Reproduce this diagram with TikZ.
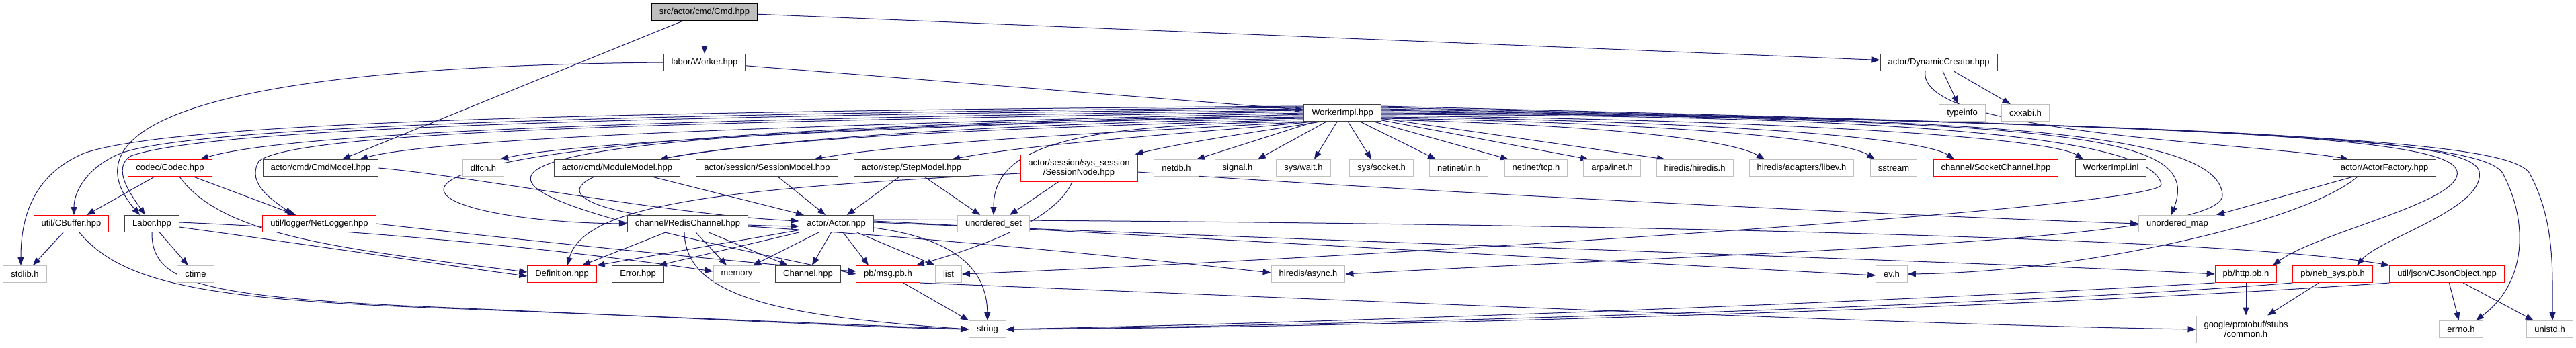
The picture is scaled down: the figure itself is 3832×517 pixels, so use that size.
\documentclass[tikz,border=0pt]{standalone}
\usepackage{fontspec}
\setmainfont{Liberation Sans}
\usetikzlibrary{arrows.meta,backgrounds}
\definecolor{edgeblue}{HTML}{191970}
\definecolor{darkframe}{HTML}{404040}
\definecolor{lightframe}{HTML}{BFBFBF}
\tikzset{
  hdr/.style={draw=darkframe, fill=white, line width=1pt, inner xsep=11.5pt, inner ysep=0pt,
    minimum height=25pt, align=center, font=\fontsize{13}{14}\selectfont},
  syshdr/.style={hdr, draw=lightframe},
  redhdr/.style={hdr, draw=red},
  incl/.style={draw=edgeblue, line width=1pt, -{Triangle[length=12pt,width=9pt]}},
}
\begin{document}
\begin{tikzpicture}[x=1pt,y=-1pt]
  \useasboundingbox (0,0) rectangle (3832,517);

  \node[hdr, fill=lightframe, draw=black] (cmd) at (1048,18) {src/actor/cmd/Cmd.hpp};
  \node[hdr] (worker) at (1048,93) {labor/Worker.hpp};
  \node[hdr] (dyncreator) at (2884,93) {actor/DynamicCreator.hpp};
  \node[hdr] (workerimpl) at (1997,168) {WorkerImpl.hpp};
  \node[syshdr] (typeinfo) at (2919,168) {typeinfo};
  \node[syshdr] (cxxabi) at (3013,168) {cxxabi.h};

  \node[redhdr] (codec) at (253,250) {codec/Codec.hpp};
  \node[hdr] (cmdmodel) at (477,250) {actor/cmd/CmdModel.hpp};
  \node[syshdr] (dlfcn) at (719,250) {dlfcn.h};
  \node[hdr] (modulemodel) at (918,250) {actor/cmd/ModuleModel.hpp};
  \node[hdr] (sessionmodel) at (1141,250) {actor/session/SessionModel.hpp};
  \node[hdr] (stepmodel) at (1356,250) {actor/step/StepModel.hpp};
  \node[redhdr, minimum height=40pt] (sessionnode) at (1605,250) {actor/session/sys\_session\\/SessionNode.hpp};
  \node[syshdr] (netdb) at (1750,250) {netdb.h};
  \node[syshdr] (signal) at (1841,250) {signal.h};
  \node[syshdr] (syswait) at (1939,250) {sys/wait.h};
  \node[syshdr] (syssocket) at (2055,250) {sys/socket.h};
  \node[syshdr] (netinetin) at (2170,250) {netinet/in.h};
  \node[syshdr] (netinettcp) at (2285,250) {netinet/tcp.h};
  \node[syshdr] (arpainet) at (2398,250) {arpa/inet.h};
  \node[syshdr] (hiredis) at (2521,250) {hiredis/hiredis.h};
  \node[syshdr] (libev) at (2680,250) {hiredis/adapters/libev.h};
  \node[syshdr] (sstream) at (2817,250) {sstream};
  \node[redhdr] (socketchannel) at (2969,250) {channel/SocketChannel.hpp};
  \node[hdr] (workerimplinl) at (3140,250) {WorkerImpl.inl};
  \node[hdr] (actorfactory) at (3547,250) {actor/ActorFactory.hpp};

  \node[redhdr] (cbuffer) at (106,333) {util/CBuffer.hpp};
  \node[hdr] (labor) at (226,333) {Labor.hpp};
  \node[redhdr] (netlogger) at (475,333) {util/logger/NetLogger.hpp};
  \node[hdr] (redischannel) at (1023,333) {channel/RedisChannel.hpp};
  \node[hdr] (actor) at (1244,333) {actor/Actor.hpp};
  \node[syshdr] (unorderedset) at (1478,333) {unordered\_set};
  \node[syshdr] (unorderedmap) at (3239,333) {unordered\_map};

  \node[syshdr] (stdlib) at (37,408) {stdlib.h};
  \node[syshdr] (ctime) at (291,408) {ctime};
  \node[redhdr] (definition) at (836,408) {Definition.hpp};
  \node[hdr] (error) at (949,408) {Error.hpp};
  \node[syshdr] (memory) at (1096,408) {memory};
  \node[hdr] (channel) at (1202,408) {Channel.hpp};
  \node[redhdr] (msgpb) at (1321,408) {pb/msg.pb.h};
  \node[syshdr] (list) at (1411,408) {list};
  \node[syshdr] (async) at (1946,408) {hiredis/async.h};
  \node[syshdr] (evh) at (2814,408) {ev.h};
  \node[redhdr] (httppb) at (3341,408) {pb/http.pb.h};
  \node[redhdr] (nebsys) at (3470,408) {pb/neb\_sys.pb.h};
  \node[redhdr] (cjson) at (3640,408) {util/json/CJsonObject.hpp};

  \node[syshdr] (string) at (1469,490) {string};
  \node[syshdr, minimum height=40pt] (google) at (3341,490) {google/protobuf/stubs\\/common.h};
  \node[syshdr] (errno) at (3661,490) {errno.h};
  \node[syshdr] (unistd) at (3793,490) {unistd.h};

  \begin{scope}[on background layer]
    \draw[incl] (cmd) -- (worker);
    \draw[incl] (cmd) -- (cmdmodel);
    \draw[incl] (cmd) -- (dyncreator);
    \draw[incl] (worker) -- (workerimpl);
    \draw[incl] (worker.west) .. controls (150,100) and (130,230) .. ([xshift=-18pt]labor.north);
    \draw[incl] (dyncreator) -- (typeinfo);
    \draw[incl] (dyncreator) -- (cxxabi);
    \draw[incl] ([xshift=-20pt]dyncreator.south) .. controls (2850,200) and (3350,212) .. ([xshift=-53pt]actorfactory.north);
    % WorkerImpl.hpp to the left
    \draw[incl] ([yshift=10pt]workerimpl.west) .. controls (800,166) and (250,185) .. (125,228) .. controls (45,262) and (31,330) .. ([xshift=-6pt]stdlib.north);
    \draw[incl] ([yshift=8pt]workerimpl.west) .. controls (800,170) and (280,192) .. (180,228) .. controls (130,248) and (110,285) .. ([xshift=4pt]cbuffer.north);
    \draw[incl] ([yshift=6pt]workerimpl.west) .. controls (800,174) and (300,195) .. (195,232) .. controls (165,250) and (195,290) .. ([xshift=-10pt]labor.north);
    \draw[incl] ([yshift=4pt]workerimpl.west) .. controls (900,178) and (420,200) .. ([xshift=45pt]codec.north);
    \draw[incl] ([yshift=2pt]workerimpl.west) .. controls (1000,182) and (440,195) .. (385,240) .. controls (365,275) and (410,300) .. ([xshift=-40pt]netlogger.north);
    \draw[incl] (workerimpl.west) .. controls (1200,186) and (650,205) .. ([xshift=58pt]cmdmodel.north);
    \draw[incl] ([yshift=-2pt]workerimpl.west) .. controls (1300,190) and (850,212) .. ([xshift=-6pt]dlfcn.north east);
    \draw[incl] ([yshift=-4pt]workerimpl.west) .. controls (300,195) and (580,330) .. (redischannel.west);
    \draw[incl] ([yshift=-6pt]workerimpl.west) .. controls (350,200) and (700,290) .. (msgpb.west);
    \draw[incl] ([yshift=-8pt]workerimpl.west) .. controls (600,200) and (720,330) .. ([yshift=-4pt]actor.west);
    \draw[incl] ([yshift=-10pt]workerimpl.west) .. controls (1500,190) and (1150,205) .. ([xshift=63pt]modulemodel.north);
    \draw[incl] ([xshift=2pt]workerimpl.south west) .. controls (1600,185) and (1478,215) .. (unorderedset.north);
    \draw[incl] ([xshift=8pt]workerimpl.south west) .. controls (1700,195) and (1360,210) .. ([xshift=70pt]sessionmodel.north);
    \draw[incl] ([xshift=16pt]workerimpl.south west) .. controls (1780,198) and (1550,212) .. ([xshift=60pt]stepmodel.north);
    \draw[incl] ([xshift=26pt]workerimpl.south west) .. controls (1880,195) and (1770,210) .. ([xshift=-4pt]sessionnode.north east);
    % WorkerImpl.hpp downwards and to the right
    \draw[incl] (workerimpl) -- ([xshift=30pt]netdb.north);
    \draw[incl] (workerimpl) -- ([xshift=30pt]signal.north);
    \draw[incl] (workerimpl) -- ([xshift=16pt]syswait.north);
    \draw[incl] (workerimpl) -- ([xshift=-15pt]syssocket.north);
    \draw[incl] (workerimpl) -- ([xshift=-34pt]netinetin.north);
    \draw[incl] (workerimpl) -- ([xshift=-41pt]netinettcp.north);
    \draw[incl] (workerimpl) -- ([xshift=-35pt]arpainet.north);
    \draw[incl] (workerimpl) -- ([xshift=-44pt]hiredis.north);
    \draw[incl] ([yshift=-10pt]workerimpl.east) .. controls (2350,185) and (2570,205) .. ([xshift=-55pt]libev.north);
    \draw[incl] ([yshift=-8pt]workerimpl.east) .. controls (2450,182) and (2740,205) .. ([xshift=-28pt]sstream.north);
    \draw[incl] ([yshift=-6pt]workerimpl.east) .. controls (2550,180) and (2860,205) .. ([xshift=-62pt]socketchannel.north);
    \draw[incl] ([yshift=-4pt]workerimpl.east) .. controls (2650,178) and (3050,205) .. ([xshift=-41pt]workerimplinl.north);
    \draw[incl] ([yshift=-2pt]workerimpl.east) .. controls (2800,172) and (3205,200) .. (3215,275) .. controls (3210,310) and (2000,385) .. (list.east);
    \draw[incl] (workerimpl.east) .. controls (2900,174) and (3300,190) .. (3306,290) .. controls (3310,360) and (2600,375) .. (async.east);
    \draw[incl] ([yshift=2pt]workerimpl.east) .. controls (3100,180) and (3275,200) .. ([xshift=-9pt]unorderedmap.north);
    \draw[incl] ([yshift=4pt]workerimpl.east) .. controls (3300,185) and (3645,205) .. (3655,255) .. controls (3665,300) and (3450,345) .. ([xshift=40pt]httppb.north);
    \draw[incl] ([yshift=6pt]workerimpl.east) .. controls (3350,188) and (3675,205) .. (3688,255) .. controls (3698,310) and (3540,355) .. ([xshift=36pt]nebsys.north);
    \draw[incl] ([yshift=8pt]workerimpl.east) .. controls (3400,190) and (3710,210) .. (3725,262) .. controls (3760,330) and (3760,420) .. ([xshift=22pt]errno.north);
    \draw[incl] ([yshift=10pt]workerimpl.east) .. controls (3450,192) and (3750,212) .. (3765,262) .. controls (3800,330) and (3797,400) .. ([xshift=4pt]unistd.north);
    % the other headers
    \draw[incl] (codec) -- (cbuffer);
    \draw[incl] (codec) -- (netlogger);
    \draw[incl] ([xshift=14pt]codec.south) .. controls (330,350) and (500,370) .. ([yshift=3pt]definition.west);
    \draw[incl] (cmdmodel.east) .. controls (700,262) and (1000,320) .. ([yshift=4pt]actor.west);
    \draw[incl] (modulemodel) -- ([xshift=-48pt]actor.north);
    \draw[incl] (sessionmodel) -- ([xshift=-16pt]actor.north);
    \draw[incl] (stepmodel) -- ([xshift=16pt]actor.north);
    \draw[incl] (stepmodel) -- ([xshift=-20pt]unorderedset.north);
    \draw[incl] (sessionnode) -- ([xshift=24pt]unorderedset.north);
    \draw[incl] ([yshift=-8pt]sessionnode.west) .. controls (1100,280) and (870,300) .. ([xshift=8pt]definition.north);
    \draw[incl] ([xshift=-10pt]sessionnode.south) .. controls (1570,330) and (1450,370) .. ([xshift=-6pt]msgpb.north east);
    \draw[incl] ([yshift=-6pt]sessionnode.east) .. controls (2100,285) and (2800,320) .. (unorderedmap.west);
    \draw[incl] (cbuffer) -- (stdlib);
    \draw[incl] ([xshift=12pt]cbuffer.south) .. controls (180,420) and (300,445) .. (640,458) .. controls (1000,472) and (1300,485) .. (string.west);
    \draw[incl] (labor) -- (ctime);
    \draw[incl] (labor.south) .. controls (225,420) and (300,440) .. (600,455) .. controls (1000,472) and (1300,488) .. (string.west);
    \draw[incl] ([yshift=-5pt]labor.east) .. controls (500,370) and (700,400) .. ([yshift=-3pt]definition.west);
    \draw[incl] ([yshift=2pt]labor.east) .. controls (600,345) and (900,380) .. ([yshift=4pt]memory.west);
    \draw[incl] (netlogger.east) .. controls (800,360) and (1150,395) .. ([yshift=4pt]msgpb.west);
    \draw[incl] (redischannel) -- ([xshift=30pt]definition.north);
    \draw[incl] (redischannel) -- ([xshift=-15pt]memory.north);
    \draw[incl] (redischannel) -- ([xshift=-30pt]channel.north);
    \draw[incl] ([xshift=-5pt]redischannel.south) .. controls (1020,440) and (1150,470) .. (string.west);
    \draw[incl] ([yshift=-4pt]redischannel.east) .. controls (1400,355) and (1700,385) .. ([yshift=2pt]async.west);
    \draw[incl] (actor) -- (definition.north east);
    \draw[incl] (actor) -- ([xshift=-8pt]error.north east);
    \draw[incl] (actor) -- ([xshift=24pt]memory.north);
    \draw[incl] (actor) -- ([xshift=6pt]channel.north);
    \draw[incl] (actor) -- ([xshift=-29pt]msgpb.north);
    \draw[incl] (actor) -- (list.north west);
    \draw[incl] ([yshift=-6pt]actor.east) .. controls (1420,355) and (1468,400) .. (string.north);
    \draw[incl] ([yshift=4pt]actor.east) .. controls (1800,355) and (2500,395) .. ([yshift=-2pt]evh.west);
    \draw[incl] ([yshift=2pt]actor.east) .. controls (2000,360) and (3000,392) .. (httppb.west);
    \draw[incl] ([yshift=6pt]actor.east) .. controls (2200,330) and (3300,350) .. (cjson.north west);
    \draw[incl] (msgpb) -- (string.north west);
    \draw[incl] (msgpb.south east) .. controls (2200,455) and (2900,485) .. (google.west);
    \draw[incl] ([xshift=-40pt]actorfactory.south) .. controls (3430,330) and (3100,405) .. (evh.east);
    \draw[incl] (actorfactory) -- (unorderedmap.north east);
    \draw[incl] (httppb) -- (google);
    \draw[incl] (nebsys) -- ([xshift=32pt]google.north);
    \draw[incl] (httppb.south west) .. controls (2800,450) and (2000,480) .. (string.east);
    \draw[incl] (nebsys.south west) .. controls (3000,455) and (2000,485) .. (string.east);
    \draw[incl] (cjson.south west) .. controls (3000,460) and (2000,488) .. (string.east);
    \draw[incl] (cjson) -- (errno);
    \draw[incl] (cjson) -- (unistd);
  \end{scope}
\end{tikzpicture}
\end{document}
